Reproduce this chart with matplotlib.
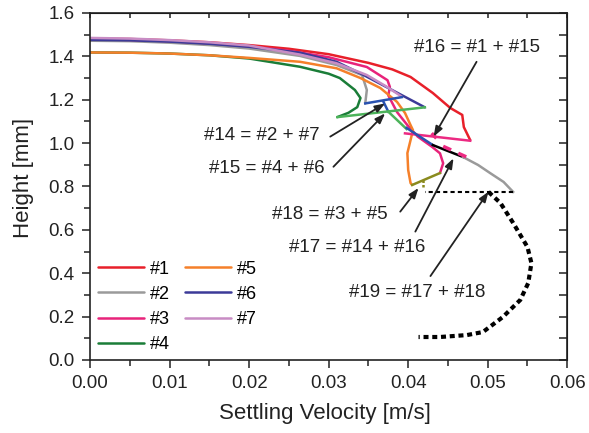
import matplotlib
matplotlib.use("Agg")
import matplotlib.pyplot as plt

plt.rcParams['font.family'] = ['Liberation Sans', 'DejaVu Sans']

# Particle trajectories: settling velocity [m/s] vs height [mm]
x1 = [0, 0.005, 0.010, 0.015, 0.020, 0.025, 0.030, 0.035, 0.038, 0.0403, 0.0431, 0.0453, 0.0468, 0.0470, 0.0478]
y1 = [1.482, 1.480, 1.474, 1.465, 1.452, 1.435, 1.410, 1.370, 1.340, 1.305, 1.231, 1.162, 1.130, 1.074, 1.014]

x2 = [0, 0.005, 0.010, 0.015, 0.020, 0.0264, 0.031, 0.0342, 0.0348, 0.0346]
y2 = [1.472, 1.470, 1.463, 1.452, 1.436, 1.402, 1.360, 1.314, 1.245, 1.183]

x3 = [0, 0.005, 0.010, 0.015, 0.020, 0.025, 0.030, 0.0348, 0.0374, 0.0377, 0.0375, 0.0378, 0.0386, 0.0399, 0.0412,
      0.0430, 0.0440, 0.0444, 0.0440]
y3 = [1.478, 1.476, 1.470, 1.460, 1.446, 1.426, 1.396, 1.351, 1.290, 1.259, 1.220, 1.199, 1.143, 1.083, 1.030,
      0.983, 0.953, 0.907, 0.862]

x4 = [0, 0.005, 0.010, 0.015, 0.020, 0.0264, 0.0300, 0.0314, 0.0333, 0.0340, 0.0336, 0.0325, 0.0311]
y4 = [1.418, 1.417, 1.413, 1.405, 1.390, 1.352, 1.320, 1.300, 1.245, 1.208, 1.166, 1.140, 1.120]

x5 = [0, 0.005, 0.010, 0.015, 0.020, 0.0264, 0.031, 0.034, 0.0365, 0.0386, 0.0396, 0.0403, 0.0406, 0.0403,
      0.0399, 0.0400, 0.0403, 0.0405]
y5 = [1.418, 1.417, 1.413, 1.405, 1.393, 1.375, 1.345, 1.300, 1.254, 1.190, 1.139, 1.083, 1.060, 1.014,
      0.954, 0.876, 0.816, 0.807]

x6 = [0, 0.005, 0.010, 0.015, 0.020, 0.0264, 0.031, 0.0344, 0.0421]
y6 = [1.476, 1.474, 1.468, 1.458, 1.444, 1.417, 1.375, 1.314, 1.165]

x7 = [0, 0.005, 0.010, 0.015, 0.020, 0.0264, 0.031, 0.0348, 0.0373, 0.0392]
y7 = [1.485, 1.482, 1.475, 1.465, 1.450, 1.408, 1.368, 1.314, 1.260, 1.214]

# merged particles
x14 = [0.0346, 0.0392]
y14 = [1.183, 1.212]
x14b = [0.0369, 0.0375]
y14b = [1.190, 1.145]
x15 = [0.0311, 0.0421]
y15 = [1.120, 1.165]
x15b = [0.0375, 0.0398]
y15b = [1.145, 1.065]
x16 = [0.0396, 0.0478]
y16 = [1.045, 1.011]
x16b = [0.0398, 0.0431]
y16b = [1.070, 0.991]
x17 = [0.0431, 0.0469]
y17 = [0.991, 0.936]
x17b = [0.0469, 0.0488, 0.0503, 0.0520, 0.0532]
y17b = [0.936, 0.899, 0.862, 0.821, 0.775]
x18 = [0.0440, 0.0405]
y18 = [0.862, 0.807]
x18b = [0.0419, 0.0419]
y18b = [0.830, 0.795]
x19a = [0.0532, 0.0421]
y19a = [0.775, 0.775]
x19 = [0.0501, 0.0516, 0.0532, 0.0550, 0.0555, 0.0551, 0.0541, 0.0519, 0.0494, 0.0474, 0.0440, 0.0413]
y19 = [0.775, 0.724, 0.632, 0.521, 0.447, 0.355, 0.277, 0.198, 0.129, 0.115, 0.106, 0.106]

# short pink marks along the merged path
pink_marks = [([0.0431, 0.0434], [1.040, 1.028]),
              ([0.0446, 0.0452], [0.982, 0.972]),
              ([0.0465, 0.0471], [0.950, 0.940])]

series = [("#1", x1, y1, "#e8202a"), ("#2", x2, y2, "#9a9a9a"), ("#3", x3, y3, "#e8237a"),
          ("#4", x4, y4, "#1a7d38"), ("#5", x5, y5, "#f5802a"), ("#6", x6, y6, "#3c3a98"),
          ("#7", x7, y7, "#c88cc4")]

fig = plt.figure(figsize=(5.89, 4.33), dpi=100)
ax = fig.add_axes([0.153, 0.1686, 0.81, 0.8014])

lw = 1.8
handles = []
for name, xs, ys, c in series:
    h, = ax.plot(xs, ys, color=c, lw=lw, label=name, solid_capstyle='round')
    handles.append(h)

ax.plot(x14, y14, color="#2a52b0", lw=lw)
ax.plot(x14b, y14b, color="#2a52b0", lw=lw)
ax.plot(x15, y15, color="#4cb35a", lw=lw)
ax.plot(x15b, y15b, color="#4cb35a", lw=lw)
ax.plot(x16, y16, color="#ec2a82", lw=lw)
ax.plot(x16b, y16b, color="#2a52b0", lw=lw)
ax.plot(x17, y17, color="black", lw=lw)
ax.plot(x17b, y17b, color="#9a9a9a", lw=lw)
ax.plot(x18, y18, color="#8a8a1e", lw=lw)
ax.plot(x18b, y18b, color="#8a8a1e", lw=lw, ls=(0, (1, 0.8)))
for xs, ys in pink_marks:
    ax.plot(xs, ys, color="#ec2a82", lw=2.5)
ax.plot(x19a, y19a, color="black", lw=1.5, ls=(0, (2, 1.5)))
ax.plot(x19, y19, color="black", lw=3, ls=(0, (1.2, 0.9)))

# annotations
notes = [("#16 = #1 + #15", (0.0487, 1.443), (0.0486, 1.375), (0.0432, 1.030)),
         ("#14 = #2 + #7", (0.0216, 1.033), (0.0302, 1.030), (0.0371, 1.183)),
         ("#15 = #4 + #6", (0.0222, 0.885), (0.0306, 0.891), (0.0371, 1.137)),
         ("#18 = #3 + #5", (0.0302, 0.671), (0.0390, 0.684), (0.0413, 0.793)),
         ("#17 = #14 + #16", (0.0336, 0.519), (0.0409, 0.592), (0.0457, 0.930)),
         ("#19 = #17 + #18", (0.0411, 0.311), (0.0428, 0.387), (0.0501, 0.776))]
for txt, tpos, tail, tip in notes:
    ax.text(tpos[0], tpos[1], txt, fontsize=13.5, ha='center', va='center', color='#222222')
    ax.annotate('', xy=tip, xytext=tail,
                arrowprops=dict(arrowstyle='-|>,head_length=0.6,head_width=0.22',
                                color='#222222', lw=1.3, shrinkA=0, shrinkB=0))

ax.set_xlim(0, 0.06)
ax.set_ylim(0, 1.6)
ax.set_xticks([0, 0.01, 0.02, 0.03, 0.04, 0.05, 0.06])
ax.set_xticklabels(["0.00", "0.01", "0.02", "0.03", "0.04", "0.05", "0.06"])
ax.set_xticks([0.005, 0.015, 0.025, 0.035, 0.045, 0.055], minor=True)
ax.set_yticks([0, 0.2, 0.4, 0.6, 0.8, 1.0, 1.2, 1.4, 1.6])
ax.set_yticklabels(["0.0", "0.2", "0.4", "0.6", "0.8", "1.0", "1.2", "1.4", "1.6"])
ax.set_yticks([0.1, 0.3, 0.5, 0.7, 0.9, 1.1, 1.3, 1.5], minor=True)
ax.tick_params(which='both', direction='out', labelsize=13.5, pad=5, width=1.1, colors='#222222')
ax.tick_params(which='major', length=6)
ax.tick_params(which='minor', length=4)
for s in ax.spines.values():
    s.set_linewidth(1.2)
    s.set_color('#222222')

# inward ticks along top and right edges
top = ax.secondary_xaxis('top')
top.set_xticks([0, 0.005, 0.01, 0.015, 0.02, 0.025, 0.03, 0.035, 0.04, 0.045, 0.05, 0.055, 0.06])
top.tick_params(direction='in', length=3.5, width=1.1, labeltop=False, colors='#222222')
right = ax.secondary_yaxis('right')
right.set_yticks([0, 0.1, 0.2, 0.3, 0.4, 0.5, 0.6, 0.7, 0.8, 0.9, 1.0, 1.1, 1.2, 1.3, 1.4, 1.5, 1.6])
right.tick_params(direction='in', length=5.5, width=1.1, labelright=False, colors='#222222')

ax.set_xlabel("Settling Velocity [m/s]", fontsize=16, color='#222222')
ax.set_ylabel("Height [mm]", fontsize=16, color='#222222')
ax.xaxis.set_label_coords(0.492, -0.125)
ax.yaxis.set_label_coords(-0.118, 0.525)

ax.legend(handles=handles, ncol=2, frameon=False, fontsize=13, loc='upper left',
          bbox_to_anchor=(-0.018, 0.333), handlelength=2.55, handletextpad=0.35,
          labelspacing=0.45, columnspacing=0.8)

fig.savefig("out.png", dpi=100)
